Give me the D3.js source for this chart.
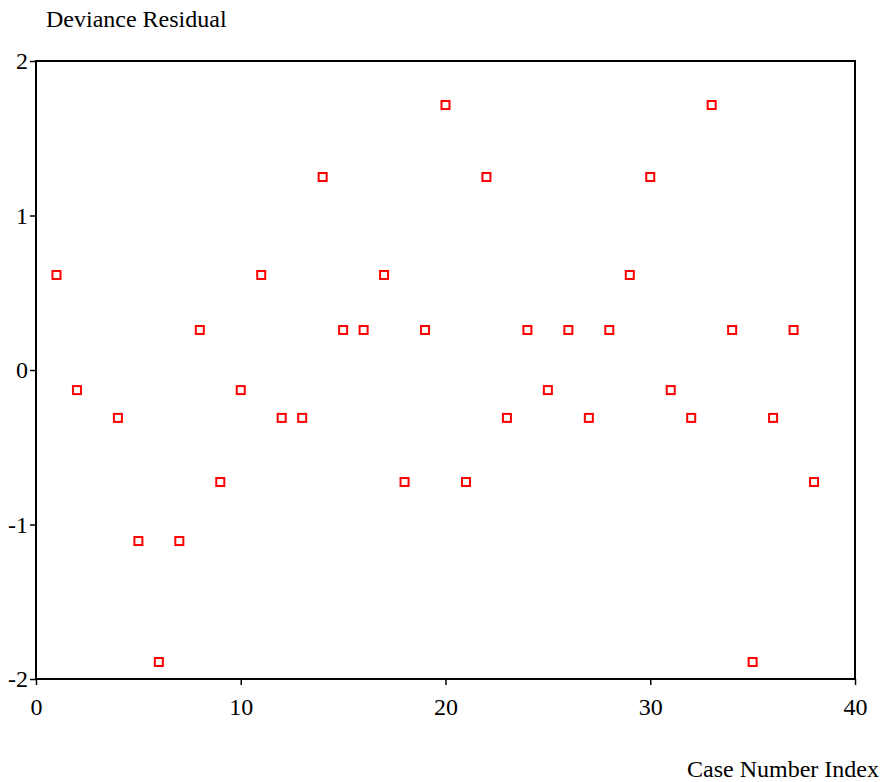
<!DOCTYPE html>
<html>
<head>
<meta charset="utf-8">
<script src="https://cdn.jsdelivr.net/npm/d3@7"></script>
<style>
  body { margin: 0; background: #fff; }
</style>
</head>
<body>
<div id="chart"></div>
<script>
// case numbers (no case 3 shown) and their deviance residuals
var caseIndex = [1, 2, 4, 5, 6, 7, 8, 9, 10, 11, 12, 13, 14, 15, 16, 17, 18, 19, 20,
                 21, 22, 23, 24, 25, 26, 27, 28, 29, 30, 31, 32, 33, 34, 35, 36, 37, 38];
var residual = [0.615, -0.13, -0.31, -1.107, -1.89, -1.107, 0.259, -0.725, -0.13, 0.615,
                -0.31, -0.31, 1.249, 0.259, 0.259, 0.615, -0.725, 0.259, 1.715,
                -0.725, 1.249, -0.31, 0.259, -0.13, 0.259, -0.31, 0.259, 0.615, 1.249,
                -0.13, -0.31, 1.715, 0.259, -1.89, -0.31, 0.259, -0.725];
var xTicks = [0, 10, 20, 30, 40];
var yTicks = [-2, -1, 0, 1, 2];

var FONT = "'Liberation Serif', 'Times New Roman', Times, 'DejaVu Serif', serif";
var FS = 24;

var width = 887, height = 782;
var margin = {top: 61, right: 32, bottom: 103, left: 36};

var svg = d3.select("#chart").append("svg")
    .attr("width", width)
    .attr("height", height);

var xScale = d3.scaleLinear()
    .domain([0, 40])
    .range([margin.left, width - margin.right]);

var yScale = d3.scaleLinear()
    .domain([-2, 2])
    .range([height - margin.bottom, margin.top]);

var data = caseIndex.map(function(c, i) { return {x: c, y: residual[i]}; });

// frame
svg.append("rect")
    .attr("x", xScale(0))
    .attr("y", yScale(2))
    .attr("width", xScale(40) - xScale(0))
    .attr("height", yScale(-2) - yScale(2))
    .style("fill", "none")
    .style("stroke", "#000")
    .style("stroke-width", 2);

// x axis
var xAxis = svg.append("g")
    .attr("transform", "translate(0," + yScale(-2) + ")")
    .call(d3.axisBottom(xScale).tickValues(xTicks).tickSize(6).tickPadding(13));
xAxis.select(".domain").remove();
xAxis.selectAll("line").style("stroke-width", 1.5);
xAxis.selectAll("text").attr("font-size", FS).attr("font-family", FONT).attr("fill", "#000");

// y axis
var yAxis = svg.append("g")
    .attr("transform", "translate(" + xScale(0) + ",0)")
    .call(d3.axisLeft(yScale).tickValues(yTicks).tickSize(6).tickPadding(2)
      .tickFormat(function(d) { return d < 0 ? "-" + Math.abs(d) : d; }));
yAxis.select(".domain").remove();
yAxis.selectAll("line").style("stroke-width", 1.5);
yAxis.selectAll("text").attr("font-size", FS).attr("font-family", FONT).attr("fill", "#000");

// points
svg.selectAll(".pt")
    .data(data)
  .enter().append("rect")
    .attr("class", "pt")
    .attr("x", function(d) { return xScale(d.x) - 4; })
    .attr("y", function(d) { return yScale(d.y) - 4; })
    .attr("width", 8)
    .attr("height", 8)
    .style("fill", "#fff")
    .style("stroke", "#ff0000")
    .style("stroke-width", 2);

// titles
svg.append("text")
    .attr("x", 46)
    .attr("y", 27)
    .attr("font-size", FS)
    .attr("font-family", FONT)
    .text("Deviance Residual");

svg.append("text")
    .attr("x", 879)
    .attr("y", 777)
    .attr("text-anchor", "end")
    .attr("font-size", FS)
    .attr("font-family", FONT)
    .text("Case Number Index");
</script>
</body>
</html>
